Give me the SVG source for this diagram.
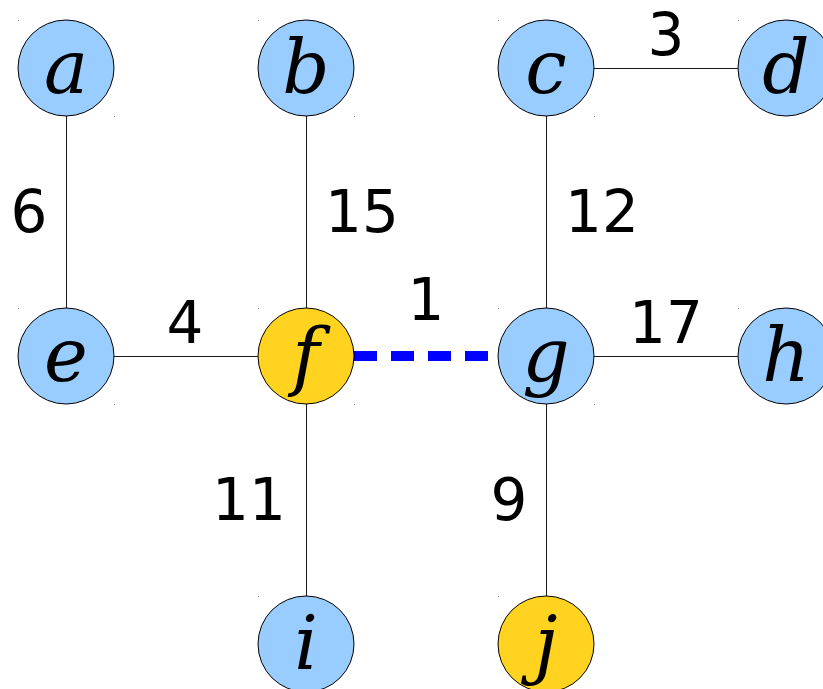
<svg xmlns="http://www.w3.org/2000/svg" width="823" height="689" viewBox="0 0 823 689">
<style>
.edge{stroke:#1a1a1a;stroke-width:1;fill:none}
.sel{stroke:#0000ff;stroke-width:10;stroke-dasharray:23 14;fill:none}
.blue{fill:#99ccff;stroke:#000;stroke-width:1}
.yel{fill:#ffd320;stroke:#000;stroke-width:1}
.lbl{font-family:"DejaVu Serif",serif;font-style:italic;font-size:74px;text-anchor:middle;fill:#000}
.w{font-family:"DejaVu Sans",sans-serif;font-size:58px;text-anchor:middle;fill:#000}
.dot{fill:#888}
</style>
<rect width="823" height="689" fill="#fff"/>
<g id="connectors">
<line class="edge" x1="66.5" y1="116" x2="66.5" y2="308"/>
<line class="edge" x1="306.5" y1="116" x2="306.5" y2="308"/>
<line class="edge" x1="546.5" y1="116" x2="546.5" y2="308"/>
<line class="edge" x1="594" y1="68.5" x2="738" y2="68.5"/>
<line class="edge" x1="114" y1="356.5" x2="258" y2="356.5"/>
<line class="edge" x1="594" y1="356.5" x2="738" y2="356.5"/>
<line class="edge" x1="306.5" y1="404" x2="306.5" y2="596"/>
<line class="edge" x1="546.5" y1="404" x2="546.5" y2="596"/>
<line class="sel" x1="354" y1="356" x2="498" y2="356"/>
<text class="w" x="29" y="232">6</text>
<text class="w" x="362" y="232">15</text>
<text class="w" x="602" y="232">12</text>
<text class="w" x="666" y="55">3</text>
<text class="w" x="185" y="343">4</text>
<text class="w" x="426" y="320">1</text>
<text class="w" x="666" y="343">17</text>
<text class="w" x="249" y="520">11</text>
<text class="w" x="509" y="520">9</text>
</g>
<g id="node-a"><circle class="blue" cx="66" cy="68" r="48"/><rect class="dot" x="18" y="20" width="1" height="1"/><rect class="dot" x="114" y="116" width="1" height="1"/><text class="lbl" x="66" y="93">a</text></g>
<g id="node-b"><circle class="blue" cx="306" cy="68" r="48"/><rect class="dot" x="258" y="20" width="1" height="1"/><rect class="dot" x="354" y="116" width="1" height="1"/><text class="lbl" x="306" y="93">b</text></g>
<g id="node-c"><circle class="blue" cx="546" cy="68" r="48"/><rect class="dot" x="498" y="20" width="1" height="1"/><rect class="dot" x="594" y="116" width="1" height="1"/><text class="lbl" x="546" y="93">c</text></g>
<g id="node-d"><circle class="blue" cx="786" cy="68" r="48"/><rect class="dot" x="738" y="20" width="1" height="1"/><text class="lbl" x="786" y="93">d</text></g>
<g id="node-e"><circle class="blue" cx="66" cy="356" r="48"/><rect class="dot" x="18" y="308" width="1" height="1"/><rect class="dot" x="114" y="404" width="1" height="1"/><text class="lbl" x="66" y="381">e</text></g>
<g id="node-f"><circle class="yel" cx="306" cy="356" r="48"/><rect class="dot" x="258" y="308" width="1" height="1"/><rect class="dot" x="354" y="404" width="1" height="1"/><text class="lbl" x="306" y="381">f</text></g>
<g id="node-g"><circle class="blue" cx="546" cy="356" r="48"/><rect class="dot" x="498" y="308" width="1" height="1"/><rect class="dot" x="594" y="404" width="1" height="1"/><text class="lbl" x="546" y="381">g</text></g>
<g id="node-h"><circle class="blue" cx="786" cy="356" r="48"/><rect class="dot" x="738" y="308" width="1" height="1"/><text class="lbl" x="786" y="381">h</text></g>
<g id="node-i"><circle class="blue" cx="306" cy="644" r="48"/><rect class="dot" x="258" y="596" width="1" height="1"/><text class="lbl" x="306" y="669">i</text></g>
<g id="node-j"><circle class="yel" cx="546" cy="644" r="48"/><rect class="dot" x="498" y="596" width="1" height="1"/><text class="lbl" x="546" y="669">j</text></g>
</svg>
